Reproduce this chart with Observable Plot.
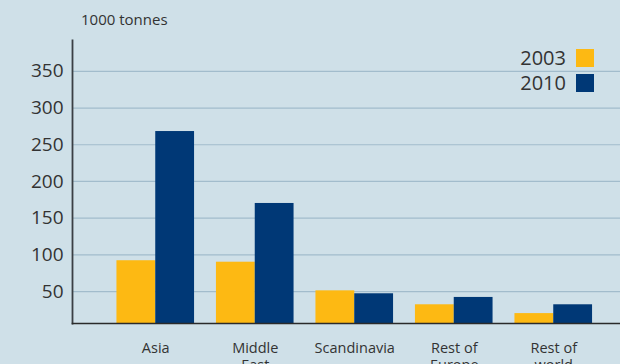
<!DOCTYPE html>
<html>
<head>
<meta charset="utf-8">
<script src="https://cdn.jsdelivr.net/npm/d3@7"></script>
<script src="https://cdn.jsdelivr.net/npm/@observablehq/plot@0.6"></script>
<style>
  html, body { margin: 0; padding: 0; background: #cfe0e8; overflow: hidden; }
  #wrap { position: relative; width: 620px; height: 364px; background: #cfe0e8; font-family: "Open Sans", "Noto Sans", sans-serif; }
  #unit { position: absolute; left: 81px; top: 9px; font-size: 15px; color: #333; }
  #legend { position: absolute; right: 26px; top: 45px; font-size: 20px; color: #333; }
  .item { display: flex; align-items: center; justify-content: flex-end; height: 25px; margin-bottom: 0px; }
  .sw { display: inline-block; width: 18px; height: 18px; margin-left: 10px; }
</style>
</head>
<body>
<div id="wrap">
  <div id="unit">1000 tonnes</div>
  <div id="legend"></div>
</div>
<script>
const regions = ["Asia", "Middle East", "Scandinavia", "Rest of Europe", "Rest of world"];
const regionLabels = ["Asia", "Middle\nEast", "Scandinavia", "Rest of\nEurope", "Rest of\nworld"];
const years = ["2003", "2010"];
const values2003 = [92, 90, 51, 32, 20];
const values2010 = [268, 170, 47, 42, 32];
const yTicks = [50, 100, 150, 200, 250, 300, 350];
const colors = ["#fdb913", "#003876"];

const d2003 = regions.map((r, i) => ({region: r, value: values2003[i]}));
const d2010 = regions.map((r, i) => ({region: r, value: values2010[i]}));

const plot = Plot.plot({
  width: 620,
  height: 364,
  marginLeft: 72,
  marginRight: 0,
  marginTop: 40,
  marginBottom: 41,
  style: {background: "transparent", fontFamily: "'Open Sans', 'Noto Sans', sans-serif", color: "#333"},
  x: {domain: regions, range: [105.5, 603], paddingInner: 0.22, paddingOuter: 0.11, round: false},
  y: {domain: [6.5, 392]},
  marks: [
    Plot.gridY(yTicks, {stroke: "#a2bccc", strokeOpacity: 1, strokeWidth: 1.2}),
    Plot.barY(d2003, {x: "region", y: "value", fill: colors[0], insetRight: 38.8, clip: true}),
    Plot.barY(d2010, {x: "region", y: "value", fill: colors[1], insetLeft: 38.8, clip: true}),
    Plot.axisY(yTicks, {tickSize: 0, tickPadding: 9, fontSize: 19, label: null, fill: "#333"}),
    Plot.axisX({tickSize: 0, tickPadding: 17, fontSize: 14.5, label: null, lineHeight: 1.2,
      tickFormat: (d) => regionLabels[regions.indexOf(d)], fill: "#333"}),
    Plot.frame({anchor: "left", stroke: "#3a3f44", strokeWidth: 1.8}),
    Plot.frame({anchor: "bottom", stroke: "#2a2a2a", strokeWidth: 1.6})
  ]
});
plot.style.position = "absolute";
plot.style.left = "0px";
plot.style.top = "0px";
document.getElementById("wrap").appendChild(plot);

const legend = document.getElementById("legend");
years.forEach((y, i) => {
  const it = document.createElement("div");
  it.className = "item";
  it.innerHTML = `<span>${y}</span><span class="sw" style="background:${colors[i]}"></span>`;
  legend.appendChild(it);
});
</script>
</body>
</html>
